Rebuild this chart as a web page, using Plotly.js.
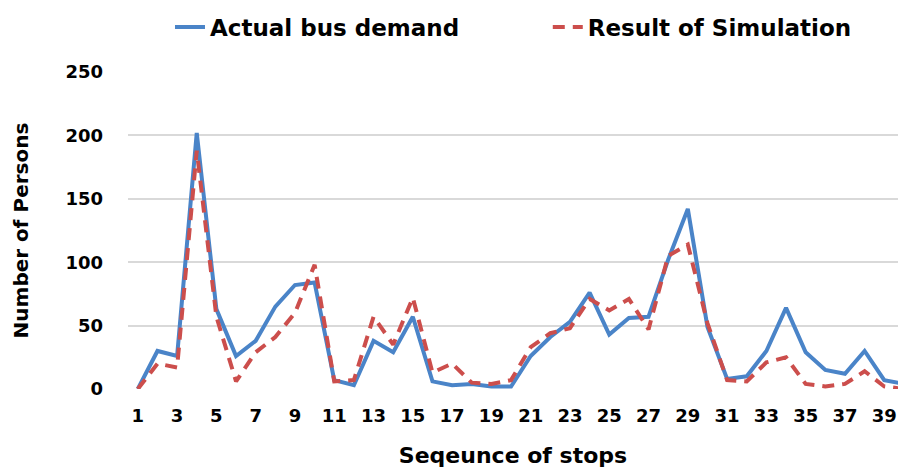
<!DOCTYPE html>
<html>
<head>
<meta charset="utf-8">
<script src="https://cdn.plot.ly/plotly-3.0.1.min.js"></script>
<style>html,body{margin:0;padding:0;background:#fff;}#chart{width:898px;height:468px;}</style>
</head>
<body>
<div id="chart"></div>
<script>
const stops = [];
for (let i = 1; i <= 40; i++) stops.push(i);
const actualDemand = [0, 30, 26, 202, 63, 26, 38, 65, 82, 84,
                      7, 3, 38, 29, 57, 6, 3, 4, 2, 2,
                      26, 41, 53, 76, 43, 56, 57, 102, 142, 49,
                      8, 10, 30, 64, 29, 15, 12, 30, 7, 4];
const simulation =   [0, 20, 17, 188, 57, 6, 29, 41, 60, 98,
                      6, 7, 57, 35, 72, 13, 20, 5, 4, 7,
                      33, 44, 48, 71, 62, 71, 47, 105, 114, 52,
                      7, 6, 21, 25, 4, 2, 4, 14, 2, 0];
const xTickVals = [1,3,5,7,9,11,13,15,17,19,21,23,25,27,29,31,33,35,37,39];
const yTickVals = [0, 50, 100, 150, 200, 250];

const FONT = '"DejaVu Sans", sans-serif';

const traces = [
  {x: stops, y: actualDemand, type: 'scatter', mode: 'lines', name: 'Actual bus demand',
   legend: 'legend', line: {color: '#4A84C8', width: 4, shape: 'linear'}},
  {x: stops, y: simulation, type: 'scatter', mode: 'lines', name: 'Result of Simulation',
   legend: 'legend2', line: {color: '#CC4E4C', width: 4, dash: '12px,8px'}}
];

const legendFont = {size: 23, family: FONT, weight: 'bold', color: '#000'};

const layout = {
  width: 898, height: 468,
  margin: {l: 128, r: 0, t: 72, b: 79},
  paper_bgcolor: '#fff', plot_bgcolor: '#fff',
  font: {family: FONT, color: '#000', size: 18},
  showlegend: true,
  legend: {orientation: 'h', x: 0.1893, xanchor: 'left', xref: 'container',
           y: 0.942, yref: 'container', yanchor: 'middle',
           font: legendFont, itemwidth: 30, bgcolor: 'rgba(0,0,0,0)'},
  legend2: {orientation: 'h', x: 0.610, xanchor: 'left', xref: 'container',
           y: 0.942, yref: 'container', yanchor: 'middle',
           font: legendFont, itemwidth: 30, bgcolor: 'rgba(0,0,0,0)'},
  xaxis: {
    range: [0.5, 39.7], tickvals: xTickVals, ticktext: xTickVals.map(String),
    showgrid: false, zeroline: false, showline: false, ticks: '',
    tickfont: {size: 18, weight: 'bold', family: FONT}, ticklabelstandoff: 14,
    title: {text: 'Seqeunce of stops', font: {size: 22, weight: 'bold', family: FONT}, standoff: 23}
  },
  yaxis: {
    range: [0, 250], tickvals: yTickVals, showgrid: true, gridcolor: '#D9D9D9', gridwidth: 2,
    zeroline: false, showline: false, ticks: '',
    tickfont: {size: 18, weight: 'bold', family: FONT}, ticklabelstandoff: 24,
    title: {text: 'Number of Persons', font: {size: 20, weight: 'bold', family: FONT}, standoff: 31}
  }
};

Plotly.newPlot('chart', traces, layout, {displayModeBar: false, staticPlot: true});
</script>
</body>
</html>
